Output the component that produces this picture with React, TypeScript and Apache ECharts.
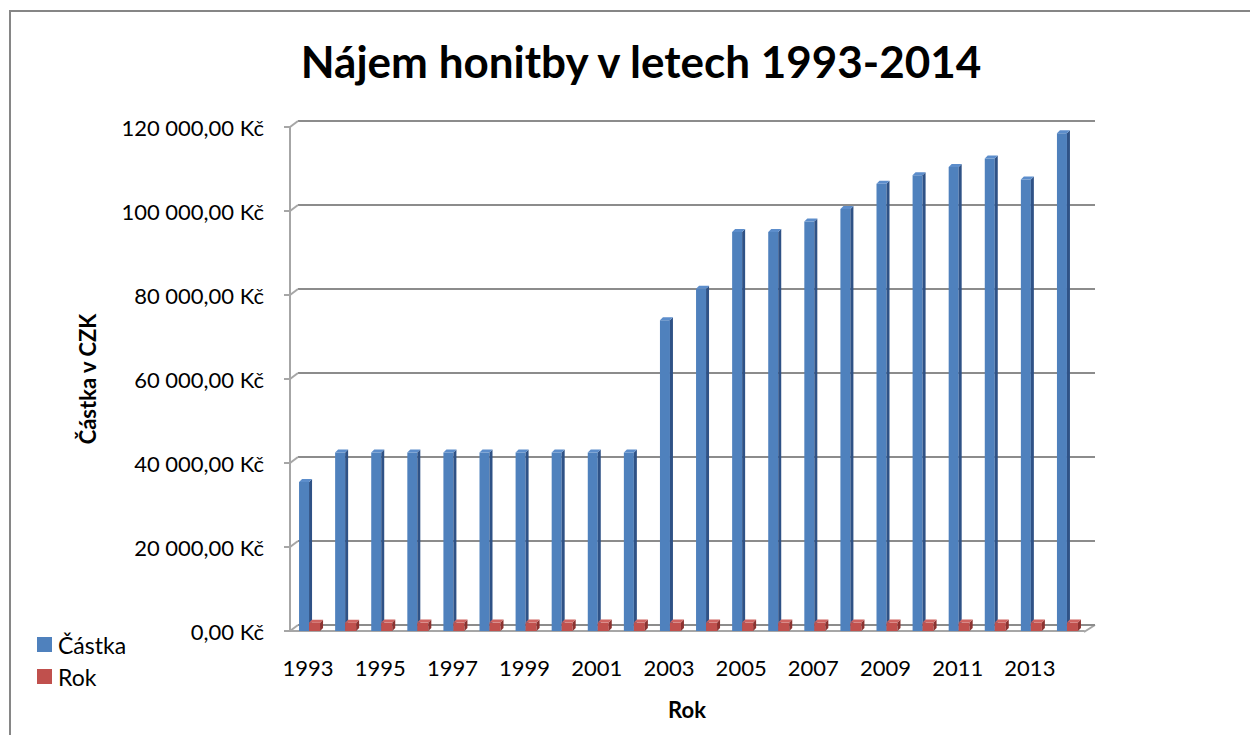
import React, { useEffect, useRef } from "react";
import * as echarts from "echarts";

const years = ["1993","1994","1995","1996","1997","1998","1999","2000","2001","2002","2003","2004","2005","2006","2007","2008","2009","2010","2011","2012","2013","2014"];
const castka = [35500,42500,42500,42500,42500,42500,42500,42500,42500,42500,74000,81500,95000,95000,97500,100500,106500,108500,110500,112500,107500,118500];
const rok = [1993,1994,1995,1996,1997,1998,1999,2000,2001,2002,2003,2004,2005,2006,2007,2008,2009,2010,2011,2012,2013,2014];
const yTicks = [0,20000,40000,60000,80000,100000,120000];

const FONT = "Lato, 'Noto Sans', sans-serif";

function fmtKc(v: number): string {
  const s = String(Math.round(v)).replace(/\B(?=(\d{3})+(?!\d))/g, " ");
  return s + ",00 Kč";
}

function makeBar(offsetL: number, offsetR: number, front: string, side: string, topc: string) {
  return (params: any, api: any) => {
    const idx = api.value(0);
    const v = api.value(1);
    const base = api.coord([idx, 0]);
    const top = api.coord([idx, v]);
    const c = base[0];
    const x0 = c + offsetL;
    const x1 = c + offsetR;
    const d = 3;
    const yb = base[1];
    const yt = top[1];
    return {
      type: "group",
      children: [
        { type: "rect", shape: { x: x0, y: yt, width: x1 - x0, height: yb - yt }, style: { fill: front } },
        { type: "polygon", shape: { points: [[x1, yt], [x1 + d, yt - d], [x1 + d, yb - d], [x1, yb]] }, style: { fill: side } },
        { type: "polygon", shape: { points: [[x0, yt], [x0 + d, yt - d], [x1 + d, yt - d], [x1, yt]] }, style: { fill: topc } },
      ],
    };
  };
}

export default function App() {
  const ref = useRef<HTMLDivElement>(null);
  useEffect(() => {
    if (!ref.current) return;
    const chart = echarts.init(ref.current, null, { renderer: "svg" });
    const option: any = {
      animation: false,
      backgroundColor: "#ffffff",
      title: {
        text: "Nájem honitby v letech 1993-2014",
        left: 636,
        top: 34,
        textAlign: "center",
        textStyle: { fontFamily: FONT, fontWeight: "bold", fontSize: 44, color: "#000" },
      },
      legend: {
        orient: "vertical",
        left: 37,
        top: 633,
        padding: 0,
        itemWidth: 15,
        itemHeight: 15,
        itemGap: 9,
        icon: "rect",
        textStyle: { fontFamily: FONT, fontSize: 23, color: "#000", padding: [0, 0, 0, 1] },
        data: ["Částka", "Rok"],
      },
      grid: [
        { left: 290, right: 166, top: 127, bottom: 104 },
        { left: 298, right: 155, top: 121, bottom: 110 },
      ],
      xAxis: [
        {
          type: "category",
          gridIndex: 0,
          data: years,
          axisLine: { show: true, lineStyle: { color: "#A6A6A6", width: 2 } },
          axisTick: { show: false },
          axisLabel: { interval: 1, margin: 25, fontFamily: FONT, fontSize: 22, color: "#000" },
          name: "Rok",
          nameLocation: "middle",
          nameGap: 67,
          nameTextStyle: { fontFamily: FONT, fontSize: 22, fontWeight: "bold", color: "#000" },
        },
        {
          type: "category",
          gridIndex: 1,
          data: years,
          show: false,
        },
      ],
      yAxis: [
        {
          type: "value",
          gridIndex: 0,
          min: 0,
          max: 120000,
          interval: 20000,
          axisLine: { show: true, lineStyle: { color: "#A6A6A6", width: 2 } },
          axisTick: { show: true, length: 6, lineStyle: { color: "#A6A6A6", width: 2 } },
          splitLine: { show: false },
          axisLabel: { margin: 26, fontFamily: FONT, fontSize: 22, color: "#000", formatter: (v: number) => fmtKc(v) },
          name: "Částka v CZK",
          nameLocation: "middle",
          nameGap: 192,
          nameTextStyle: { fontFamily: FONT, fontSize: 22, fontWeight: "bold", color: "#000" },
        },
        {
          type: "value",
          gridIndex: 1,
          min: 0,
          max: 120000,
          interval: 20000,
          axisLine: { show: false },
          axisTick: { show: false },
          axisLabel: { show: false },
          splitLine: { show: true, lineStyle: { color: "#8C8C8C", width: 2 } },
        },
      ],
      series: [
        {
          name: "ticks",
          type: "custom",
          xAxisIndex: 0,
          yAxisIndex: 0,
          silent: true,
          legendHoverLink: false,
          data: yTicks.map((v) => [0, v]),
          renderItem: (params: any, api: any) => {
            const p = api.coord([0, api.value(1)]);
            const w = api.size([1, 0])[0];
            const x = p[0] - w / 2;
            return {
              type: "line",
              shape: { x1: x, y1: p[1], x2: x + 8, y2: p[1] - 6 },
              style: { stroke: "#A6A6A6", lineWidth: 2 },
            };
          },
          z: 1,
        },
        {
          name: "Částka",
          type: "custom",
          xAxisIndex: 0,
          yAxisIndex: 0,
          itemStyle: { color: "#4F81BD" },
          data: castka.map((v, i) => [i, v]),
          renderItem: makeBar(-9, 1, "#4F81BD", "#2F5286", "#5C8DCB"),
          z: 3,
        },
        {
          name: "Rok",
          type: "custom",
          xAxisIndex: 0,
          yAxisIndex: 0,
          itemStyle: { color: "#C0504D" },
          data: rok.map((v, i) => [i, v]),
          renderItem: makeBar(1, 12, "#C0504D", "#8C3230", "#CF6461"),
          z: 4,
        },
      ],
      graphic: [
        {
          type: "rect",
          shape: { x: 10, y: 11, width: 1400, height: 900 },
          style: { fill: "none", stroke: "#868686", lineWidth: 2 },
          silent: true,
          z: 100,
        },
        {
          type: "line",
          shape: { x1: 1084, y1: 632, x2: 1095, y2: 625 },
          style: { stroke: "#A6A6A6", lineWidth: 2 },
          silent: true,
        },
      ],
    };
    chart.setOption(option);
    return () => chart.dispose();
  }, []);
  return <div ref={ref} style={{ position: "fixed", left: 0, top: 0, width: 1250, height: 735 }} />;
}
